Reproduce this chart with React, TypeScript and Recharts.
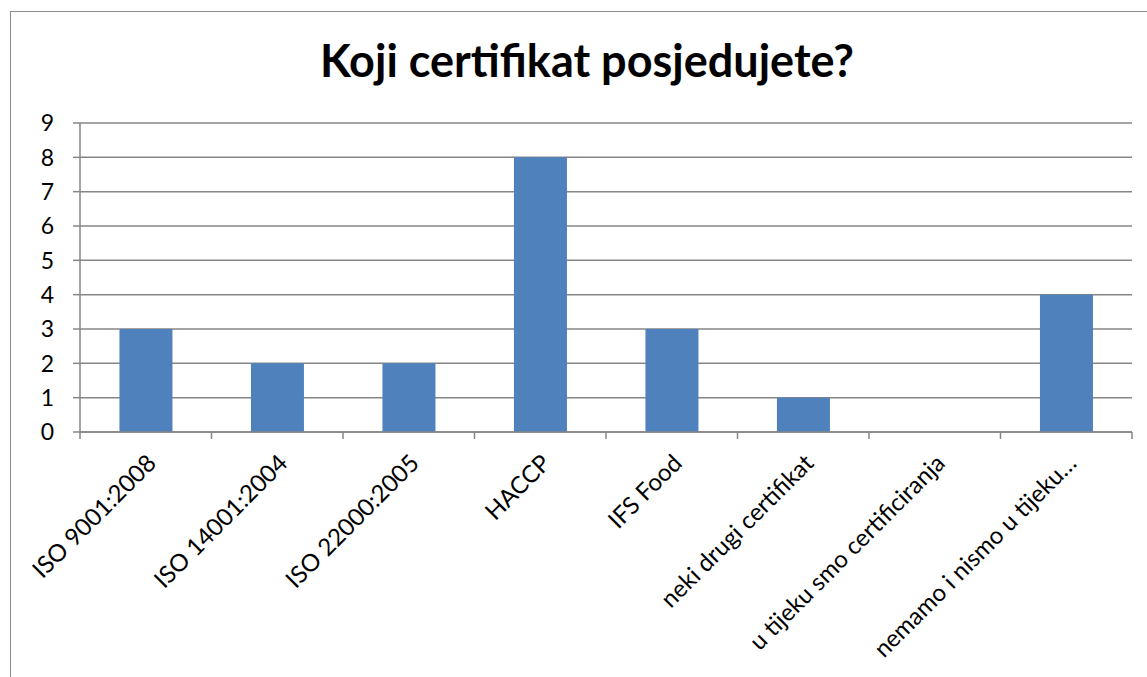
import React from "react";
import { BarChart, Bar, XAxis, YAxis, CartesianGrid } from "recharts";

const categories = [
  "ISO 9001:2008",
  "ISO 14001:2004",
  "ISO 22000:2005",
  "HACCP",
  "IFS Food",
  "neki drugi certifikat",
  "u tijeku smo certificiranja",
  "nemamo i nismo u tijeku…",
];
const counts = [3, 2, 2, 8, 3, 1, 0, 4];
const yTicks = [0, 1, 2, 3, 4, 5, 6, 7, 8, 9];

const data = categories.map((name, i) => ({ name, count: counts[i] }));

const FONT = "Lato, 'Open Sans', sans-serif";
const GRAY = "#868686";

// category label, plus the tick marks that sit between categories
const CategoryTick = (props: any) => {
  const { x, y, payload, index, visibleTicksCount } = props;
  const half = payload.offset || 0;
  const isLast = index === visibleTicksCount - 1;
  return (
    <g>
      <line x1={x - half} x2={x - half} y1={y} y2={y + 7} stroke={GRAY} strokeWidth={1.5} />
      {isLast && (
        <line x1={x + half} x2={x + half} y1={y} y2={y + 7} stroke={GRAY} strokeWidth={1.5} />
      )}
      <g transform={`translate(${x - 1},${y + 20})`}>
        <text
          x={0}
          y={0}
          dy="0.75em"
          textAnchor="end"
          transform="rotate(-45)"
          fill="#000"
          fontSize={24}
          fontFamily={FONT}
        >
          {payload.value}
        </text>
      </g>
    </g>
  );
};

const ValueTick = (props: any) => {
  const { x, y, payload } = props;
  return (
    <text
      x={x - 17}
      y={y}
      dy="0.36em"
      textAnchor="end"
      fill="#000"
      fontSize={23}
      fontFamily={FONT}
    >
      {payload.value}
    </text>
  );
};

const App = () => {
  return (
    <div
      style={{
        position: "fixed",
        left: 0,
        top: 0,
        width: 1147,
        height: 677,
        overflow: "hidden",
        background: "#fff",
      }}
    >
      <div
        style={{
          position: "absolute",
          left: 10,
          top: 11,
          width: 1200,
          height: 700,
          borderLeft: "1.5px solid #8c8c8c",
          borderTop: "1.5px solid #8c8c8c",
        }}
      />
      <div
        style={{
          position: "absolute",
          left: 0,
          width: 1174,
          top: 33,
          textAlign: "center",
          fontFamily: FONT,
          fontWeight: 700,
          fontSize: 45,
          color: "#000",
        }}
      >
        Koji certifikat posjedujete?
      </div>
      <div style={{ position: "absolute", left: 0, top: 0 }}>
        <BarChart
          width={1147}
          height={677}
          data={data}
          margin={{ top: 123, right: 15, bottom: 45, left: 40 }}
          barCategoryGap="30%"
        >
          <CartesianGrid vertical={false} stroke={GRAY} strokeWidth={1.5} />
          <XAxis
            dataKey="name"
            interval={0}
            height={200}
            tickSize={0}
            tickMargin={0}
            tickLine={false}
            axisLine={{ stroke: GRAY, strokeWidth: 1.5 }}
            tick={<CategoryTick />}
          />
          <YAxis
            width={40}
            domain={[0, 9]}
            ticks={yTicks}
            interval={0}
            tickSize={7}
            tickLine={{ stroke: GRAY, strokeWidth: 1.5 }}
            axisLine={{ stroke: GRAY, strokeWidth: 1.5 }}
            tick={<ValueTick />}
          />
          <Bar dataKey="count" fill="#4F81BD" isAnimationActive={false} />
        </BarChart>
      </div>
    </div>
  );
};

export default App;
